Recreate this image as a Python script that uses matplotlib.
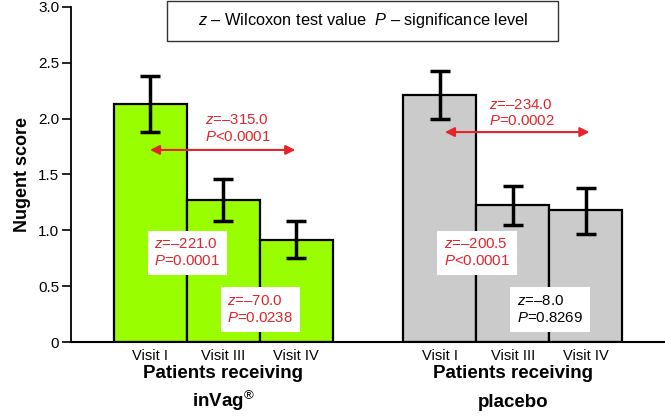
import numpy as np
import matplotlib
matplotlib.use("Agg")
import matplotlib.pyplot as plt
from matplotlib.patches import Rectangle
from matplotlib.transforms import blended_transform_factory

plt.rcParams['font.family'] = ['Liberation Sans', 'DejaVu Sans']
plt.rcParams['mathtext.fontset'] = 'custom'
plt.rcParams['mathtext.rm'] = 'Liberation Sans'
plt.rcParams['mathtext.it'] = 'Liberation Sans:italic'
plt.rcParams['mathtext.bf'] = 'Liberation Sans:bold'

# data
visits = ["Visit I", "Visit III", "Visit IV"]
group_line1 = ["Patients receiving", "Patients receiving"]
group_line2 = [r"$\mathbf{inVag}^{®}$", "placebo"]
invag_mean = [2.13, 1.27, 0.91]
invag_err_lo = [0.25, 0.19, 0.16]
invag_err_hi = [0.25, 0.19, 0.17]
placebo_mean = [2.21, 1.23, 1.18]
placebo_err_lo = [0.21, 0.18, 0.21]
placebo_err_hi = [0.22, 0.17, 0.20]

# Wilcoxon tests: I vs IV (arrow), I vs III, III vs IV
invag_tests = [("–315.0", "<0.0001"), ("–221.0", "=0.0001"), ("–70.0", "=0.0238")]
placebo_tests = [("–234.0", "=0.0002"), ("–200.5", "<0.0001"), ("–8.0", "=0.8269")]

RED = '#e3242b'
GREEN = '#99ff00'
GRAY = '#cbcbcb'

fig = plt.figure(figsize=(6.65, 4.19), dpi=100)
ax = fig.add_axes([71/665, 77/419, 1 - 71/665, (342 - 7)/419])

x1 = np.arange(3)
x2 = np.arange(3) + 3.97

ax.bar(x1, invag_mean, width=1.0, color=GREEN, edgecolor='black', linewidth=1.6, zorder=2)
ax.bar(x2, placebo_mean, width=1.0, color=GRAY, edgecolor='black', linewidth=1.6, zorder=2)
ax.errorbar(x1, invag_mean, yerr=[invag_err_lo, invag_err_hi], fmt='none', ecolor='black',
            elinewidth=2.5, capsize=7.5, capthick=2.5, zorder=3)
ax.errorbar(x2, placebo_mean, yerr=[placebo_err_lo, placebo_err_hi], fmt='none', ecolor='black',
            elinewidth=2.5, capsize=7.5, capthick=2.5, zorder=3)

ax.set_xlim(-79/73, (665 - 150)/73)
ax.set_ylim(0, 3.0)
ax.set_yticks([0, 0.5, 1.0, 1.5, 2.0, 2.5, 3.0])
ax.set_yticklabels(["0", "0.5", "1.0", "1.5", "2.0", "2.5", "3.0"], fontsize=11)
ax.set_xticks(list(x1) + list(x2))
ax.set_xticklabels(visits + visits, fontsize=10.5)
ax.tick_params(axis='x', length=0, pad=5)
ax.tick_params(axis='y', length=6.5, width=1.2, pad=2)
for s in ['top', 'right']:
    ax.spines[s].set_visible(False)
ax.spines['left'].set_linewidth(1.3)
ax.spines['bottom'].set_linewidth(1.5)
ax.set_ylabel("Nugent score", fontsize=13, fontweight='bold', labelpad=5)

# group labels, two lines placed separately
tr = blended_transform_factory(ax.transData, fig.transFigure)
for xc, l1, l2 in zip([x1.mean(), x2.mean()], group_line1, group_line2):
    ax.text(xc, 1 - 378/419, l1, transform=tr, ha='center', va='baseline',
            fontsize=13.5, fontweight='bold')
    ax.text(xc, 1 - 407/419, l2, transform=tr, ha='center', va='baseline',
            fontsize=13.5, fontweight='bold')

# arrows between visit I and visit IV
def arrow(xa, xb, y):
    ax.annotate('', xy=(xb, y), xytext=(xa, y),
                arrowprops=dict(arrowstyle='<|-|>', color=RED, lw=1.5,
                                mutation_scale=14, shrinkA=0, shrinkB=0), zorder=4)

arrow(x1[0], x1[0] + 1.99, 1.72)
arrow(x2[0] + 0.07, x2[0] + 2.05, 1.88)

def label(x, y, z, p, color, box):
    s = "$z$=" + z + "\n$P$" + p
    kw = dict(ha='left', va='center', fontsize=10.8, color=color, linespacing=1.25, zorder=5)
    if box:
        kw['bbox'] = dict(facecolor='white', edgecolor='none', boxstyle='square,pad=0.45')
    ax.text(x, y, s, **kw)

label(x1[0] + 0.75, 1.91, invag_tests[0][0], invag_tests[0][1], RED, False)
label(x1[0] + 0.06, 0.80, invag_tests[1][0], invag_tests[1][1], RED, True)
label(x1[0] + 1.06, 0.29, invag_tests[2][0], invag_tests[2][1], RED, True)
label(x2[0] + 0.67, 2.05, placebo_tests[0][0], placebo_tests[0][1], RED, False)
label(x2[0] + 0.06, 0.80, placebo_tests[1][0], placebo_tests[1][1], RED, True)
label(x2[0] + 1.06, 0.29, placebo_tests[2][0], placebo_tests[2][1], 'black', True)

# key box at the top
fig.patches.append(Rectangle((167/665, 1 - 41/419), (558 - 167)/665, 40/419,
                             transform=fig.transFigure, facecolor='white',
                             edgecolor='#333333', linewidth=1.0, zorder=10))
fig.text(363/665, 1 - 21/419, "$z$ – Wilcoxon test value  $P$ – significance level",
         ha='center', va='center', fontsize=11.8, zorder=11)

fig.savefig("out.png", dpi=100)
